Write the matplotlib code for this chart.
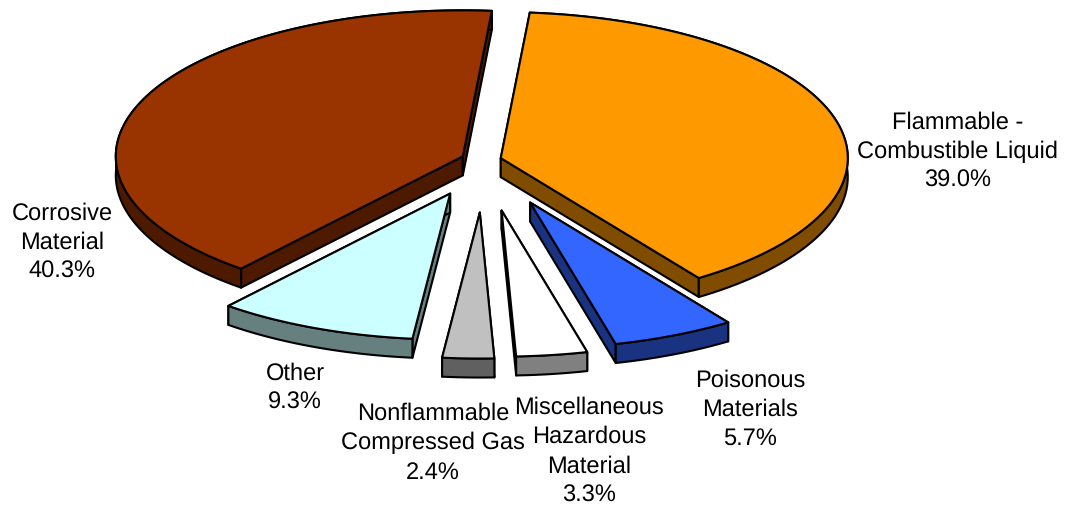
import numpy as np
import matplotlib
matplotlib.use('Agg')
import matplotlib.pyplot as plt

plt.rcParams['font.family'] = ['Liberation Sans', 'DejaVu Sans']
plt.rcParams['text.hinting'] = 'none'

labels = ['Flammable -\nCombustible Liquid', 'Poisonous\nMaterials', 'Miscellaneous\nHazardous\nMaterial',
          'Nonflammable\nCompressed Gas', 'Other', 'Corrosive\nMaterial']
shares = [39.0, 5.7, 3.3, 2.4, 9.3, 40.3]
colors = ['#FF9900', '#3366FF', '#FFFFFF', '#C0C0C0', '#CCFFFF', '#993300']

# layout, in pixels of the 1067x508 picture
explode = [0.05, 0.32, 0.35, 0.36, 0.25, 0.066]
label_xy = [(957.5, 151.5), (750, 409.5), (589, 451.5), (433, 443), (295, 388), (62, 242.5)]
cx, cy = 484, 160
rx, ry = 347, 146
depth = 19
start = 4.8


def ring(a1, a2, ox, oy):
	t = np.radians(np.linspace(a1, a2, 200))
	return ox + rx * np.sin(t), oy - ry * np.cos(t)


def face(ax, x, y, color):
	ax.fill(x, y, facecolor=color, edgecolor='black', linewidth=1.5, joinstyle='round')


def shade(color):
	return tuple(c / 2 for c in matplotlib.colors.to_rgb(color))


fig = plt.figure(figsize=(10.67, 5.08), dpi=100)
ax = fig.add_axes([0, 0, 1, 1])
ax.set_xlim(0, 1067)
ax.set_ylim(508, 0)
ax.axis('off')

edges = start + np.cumsum([0] + [s * 3.6 for s in shares])
order = [5, 0, 4, 1, 3, 2]
for i in order:
	a1, a2 = edges[i], edges[i + 1]
	mid = np.radians((a1 + a2) / 2)
	ox = cx + explode[i] * rx * np.sin(mid)
	oy = cy - explode[i] * ry * np.cos(mid)
	x, y = ring(a1, a2, ox, oy)
	dark = shade(colors[i])
	# sides first, the top face covers whatever faces away
	for k in (0, -1):
		face(ax, [ox, x[k], x[k], ox], [oy, y[k], y[k] + depth, oy + depth], dark)
	face(ax, np.r_[x, x[::-1]], np.r_[y, y[::-1] + depth], dark)
	face(ax, np.r_[ox, x], np.r_[oy, y], colors[i])

for i, (tx, ty) in enumerate(label_xy):
	text = labels[i] + '\n' + f'{shares[i]:.1f}%'
	ax.text(tx, ty, text, ha='center', va='center', fontsize=17, color='black', linespacing=1.4)

fig.savefig('out.png', dpi=100)
